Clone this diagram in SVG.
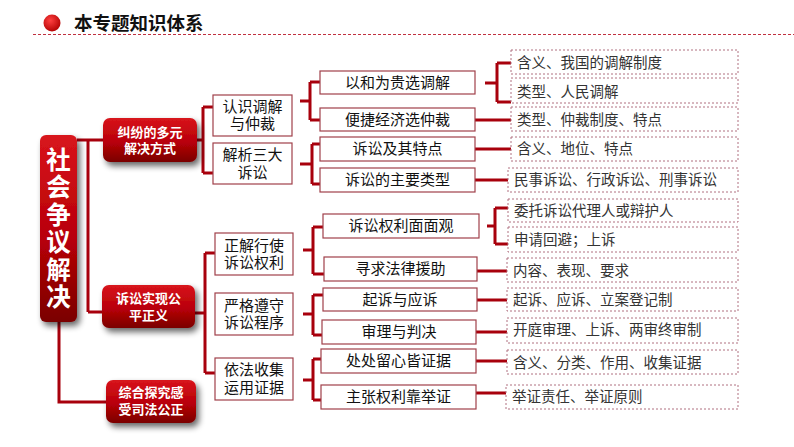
<svg xmlns="http://www.w3.org/2000/svg" width="794" height="447" viewBox="0 0 794 447">
<defs>
<linearGradient id="rg" x1="0" y1="0" x2="0" y2="1">
<stop offset="0" stop-color="#d8141c"/>
<stop offset="0.55" stop-color="#b80008"/>
<stop offset="1" stop-color="#7a0000"/>
</linearGradient>
<radialGradient id="cg" cx="0.4" cy="0.35" r="0.7">
<stop offset="0" stop-color="#ff4040"/>
<stop offset="1" stop-color="#b00000"/>
</radialGradient>
<filter id="sh" x="-30%" y="-30%" width="170%" height="170%">
<feGaussianBlur in="SourceAlpha" stdDeviation="3"/>
<feOffset dx="3" dy="4" result="b"/>
<feComponentTransfer><feFuncA type="linear" slope="0.6"/></feComponentTransfer>
<feMerge><feMergeNode/><feMergeNode in="SourceGraphic"/></feMerge>
</filter>
</defs>
<style>
.red{fill:url(#rg);filter:url(#sh)}
.rt{font-family:"Noto Sans CJK SC",sans-serif;font-weight:bold;fill:#fff;font-size:13px;text-anchor:middle}
.mt{font-family:"Noto Sans CJK SC",sans-serif;font-weight:bold;fill:#fff;font-size:24.5px;writing-mode:vertical-rl;letter-spacing:3px}
.b2{fill:#fff;stroke:#a0404a;stroke-width:1.2}
.t2{font-family:"Noto Sans CJK SC",sans-serif;fill:#111;font-size:15px;text-anchor:middle}
.b4{fill:#fff;stroke:#b07080;stroke-width:1;stroke-dasharray:2 2}
.t4{font-family:"Noto Sans CJK SC",sans-serif;fill:#333;font-size:14.5px}
.ln{fill:none;stroke:#a8000c;stroke-width:3}
</style>
<g id="title">
<circle cx="52" cy="23" r="8.5" fill="url(#cg)"/>
<text x="74" y="30" font-family="'Noto Sans CJK SC',sans-serif" font-weight="bold" font-size="18.5" fill="#111">本专题知识体系</text>
<line x1="33" y1="34.5" x2="794" y2="34.5" stroke="#c03040" stroke-width="1" stroke-dasharray="3 2"/>
</g>
<g id="connectors">
<path class="ln" d="M77 140 H88 M88 140 V312 M88 140 H103 M88 312 H102"/>
<path class="ln" d="M59 322 V402 H106"/>
<path class="ln" d="M197 140 H203 M203 107 V173 M203 107 H213 M203 173 H213"/>
<path class="ln" d="M195 313 H205 M205 253 V373 M205 253 H215 M205 373 H215"/>
<path class="ln" d="M300 101 H310 M310 82 V120 M310 82 H320 M310 120 H320"/>
<path class="ln" d="M300 164 H312 M312 144 V184 M312 144 H320 M312 184 H320"/>
<path class="ln" d="M303 250 H313 M313 227 V274 M313 227 H323 M313 274 H324"/>
<path class="ln" d="M303 314 H313 M313 295 V335 M313 295 H323 M313 335 H322"/>
<path class="ln" d="M303 380 H313 M313 359 V400 M313 359 H321 M313 400 H321"/>
<path class="ln" d="M485 83 H497 M497 63 V102 M497 63 H511 M497 102 H511"/>
<path class="ln" d="M475 120 H511 M475 149 H511 M475 180 H508"/>
<path class="ln" d="M487 226 H495 M495 208 V244 M495 208 H508 M495 244 H508"/>
<path class="ln" d="M477 271 H507 M477 300 H507 M476 332 H507 M476 361 H507 M476 393 H506"/>
</g>
<g id="n-main">
<rect class="red" x="40" y="135" width="37" height="187" rx="6"/>
<text class="mt" x="58.5" y="147">社会争议解决</text>
</g>
<g id="n-a">
<rect class="red" x="103" y="118" width="94" height="44" rx="7"/>
<text class="rt"><tspan x="150" y="137">纠纷的多元</tspan><tspan x="150" y="153">解决方式</tspan></text>
</g>
<g id="n-b">
<rect class="red" x="102" y="285" width="93" height="43" rx="7"/>
<text class="rt"><tspan x="148.5" y="303">诉讼实现公</tspan><tspan x="148.5" y="320">平正义</tspan></text>
</g>
<g id="n-c">
<rect class="red" x="106" y="380" width="90" height="43" rx="7"/>
<text class="rt"><tspan x="151" y="397">综合探究感</tspan><tspan x="151" y="414">受司法公正</tspan></text>
</g>
<g id="n-a1">
<rect class="b2" x="213" y="95" width="79" height="41"/>
<text class="t2"><tspan x="252.5" y="112">认识调解</tspan><tspan x="252.5" y="129">与仲裁</tspan></text>
</g>
<g id="n-a2">
<rect class="b2" x="213" y="143" width="79" height="41"/>
<text class="t2"><tspan x="252.5" y="160">解析三大</tspan><tspan x="252.5" y="178">诉讼</tspan></text>
</g>
<g id="n-b1">
<rect class="b2" x="215" y="233" width="78" height="42"/>
<text class="t2"><tspan x="254" y="251">正解行使</tspan><tspan x="254" y="268">诉讼权利</tspan></text>
</g>
<g id="n-b2">
<rect class="b2" x="215" y="293" width="78" height="42"/>
<text class="t2"><tspan x="254" y="311">严格遵守</tspan><tspan x="254" y="328">诉讼程序</tspan></text>
</g>
<g id="n-b3">
<rect class="b2" x="215" y="358" width="78" height="42"/>
<text class="t2"><tspan x="254" y="375">依法收集</tspan><tspan x="254" y="393">运用证据</tspan></text>
</g>
<g id="n-a11">
<rect class="b2" x="320" y="71" width="155" height="23"/>
<text class="t2" x="397.5" y="88">以和为贵选调解</text>
</g>
<g id="n-a12">
<rect class="b2" x="320" y="108" width="155" height="23"/>
<text class="t2" x="397.5" y="125">便捷经济选仲裁</text>
</g>
<g id="n-a21">
<rect class="b2" x="320" y="137" width="155" height="24"/>
<text class="t2" x="397.5" y="154">诉讼及其特点</text>
</g>
<g id="n-a22">
<rect class="b2" x="320" y="168" width="155" height="24"/>
<text class="t2" x="397.5" y="185">诉讼的主要类型</text>
</g>
<g id="n-b11">
<rect class="b2" x="323" y="214" width="156" height="24"/>
<text class="t2" x="401" y="231">诉讼权利面面观</text>
</g>
<g id="n-b12">
<rect class="b2" x="324" y="257" width="153" height="24"/>
<text class="t2" x="400.5" y="274">寻求法律援助</text>
</g>
<g id="n-b21">
<rect class="b2" x="323" y="288" width="154" height="23"/>
<text class="t2" x="400" y="305">起诉与应诉</text>
</g>
<g id="n-b22">
<rect class="b2" x="322" y="320" width="154" height="24"/>
<text class="t2" x="399" y="337">审理与判决</text>
</g>
<g id="n-b31">
<rect class="b2" x="321" y="349" width="155" height="24"/>
<text class="t2" x="398.5" y="366">处处留心皆证据</text>
</g>
<g id="n-b32">
<rect class="b2" x="321" y="385" width="155" height="24"/>
<text class="t2" x="398.5" y="402">主张权利靠举证</text>
</g>
<g id="l1"><rect class="b4" x="511" y="50" width="227" height="24"/><text class="t4" x="517" y="68">含义、我国的调解制度</text></g>
<g id="l2"><rect class="b4" x="511" y="78" width="227" height="25"/><text class="t4" x="517" y="97">类型、人民调解</text></g>
<g id="l3"><rect class="b4" x="511" y="107" width="227" height="24"/><text class="t4" x="517" y="125">类型、仲裁制度、特点</text></g>
<g id="l4"><rect class="b4" x="511" y="137" width="227" height="24"/><text class="t4" x="517" y="154">含义、地位、特点</text></g>
<g id="l5"><rect class="b4" x="508" y="168" width="230" height="24"/><text class="t4" x="514" y="185">民事诉讼、行政诉讼、刑事诉讼</text></g>
<g id="l6"><rect class="b4" x="508" y="199" width="230" height="23"/><text class="t4" x="514" y="216">委托诉讼代理人或辩护人</text></g>
<g id="l7"><rect class="b4" x="508" y="227" width="230" height="25"/><text class="t4" x="514" y="245">申请回避；上诉</text></g>
<g id="l8"><rect class="b4" x="507" y="258" width="231" height="24"/><text class="t4" x="513" y="276">内容、表现、要求</text></g>
<g id="l9"><rect class="b4" x="507" y="288" width="231" height="23"/><text class="t4" x="513" y="305">起诉、应诉、立案登记制</text></g>
<g id="l10"><rect class="b4" x="507" y="318" width="231" height="25"/><text class="t4" x="513" y="335">开庭审理、上诉、两审终审制</text></g>
<g id="l11"><rect class="b4" x="507" y="350" width="231" height="24"/><text class="t4" x="513" y="368">含义、分类、作用、收集证据</text></g>
<g id="l12"><rect class="b4" x="506" y="385" width="232" height="24"/><text class="t4" x="512" y="402">举证责任、举证原则</text></g>
</svg>
